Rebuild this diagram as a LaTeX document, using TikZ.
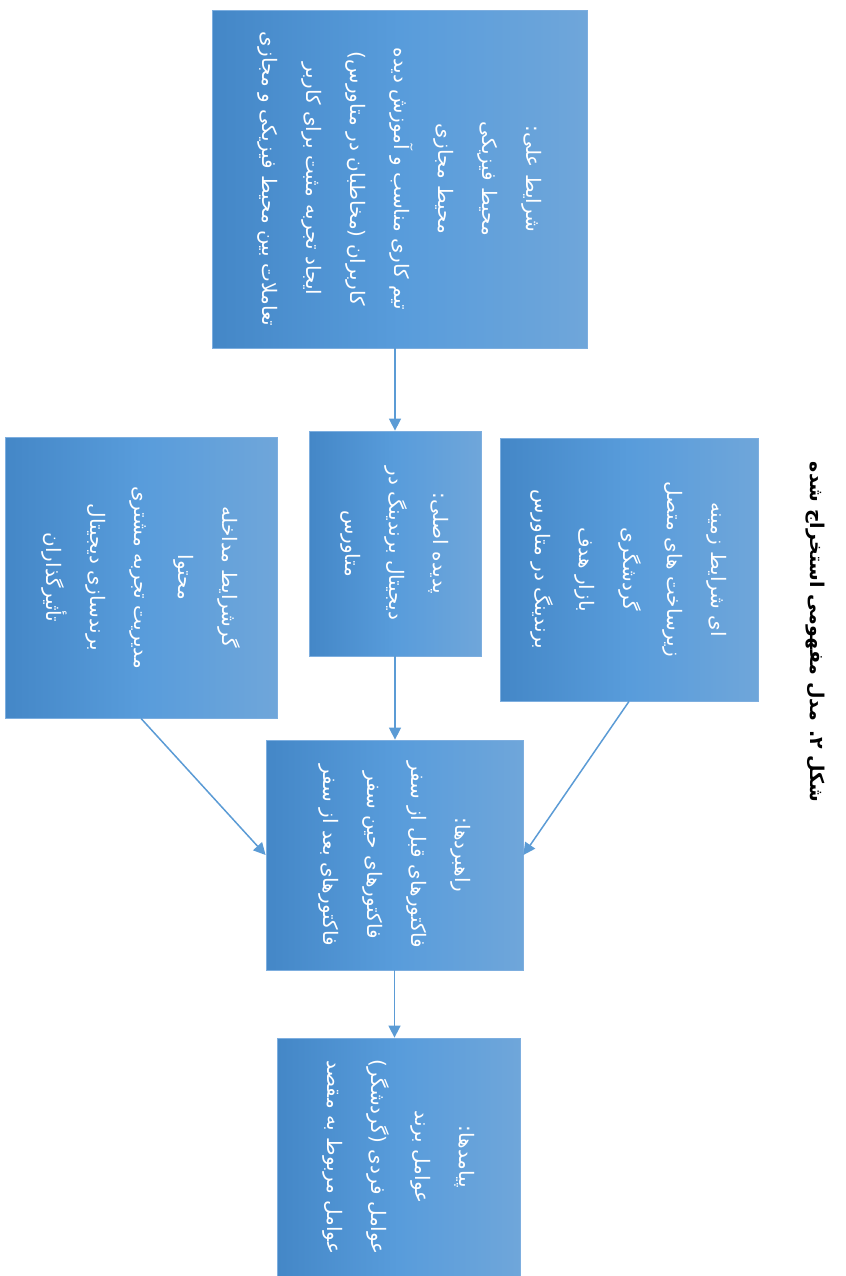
\documentclass[tikz,border=0pt]{standalone}
\usepackage{fontspec}
\usetikzlibrary{arrows.meta}
\newfontfamily\arabicfont[Script=Arabic]{DejaVu Sans}
\TeXXeTstate=1
\definecolor{boxdark}{HTML}{4487C7}
\definecolor{boxmid}{HTML}{589CDB}
\definecolor{boxlight}{HTML}{6FA6DA}
\definecolor{boxedge}{HTML}{7DAEDF}
\definecolor{flow}{HTML}{5B9BD5}
\newcommand{\rl}[1]{\beginR #1\endR}

\begin{document}
\begin{tikzpicture}
        [x=0.5pt,y=-0.5pt,every node/.style={rotate=-90,align=center,text=white,inner sep=0,font=\arabicfont\fontsize{10}{22}\selectfont},
        stage/.style={draw=boxedge,left color=boxdark,right color=boxlight,middle color=boxmid},
        link/.style={draw=flow,line width=0.75pt,-{Triangle[length=6pt,width=6pt]}}]

        \useasboundingbox (0,0) rectangle (846,1276);

        \node[stage,minimum width=169pt,minimum height=187.5pt] (cause) at (399.5,179)
          {\rl{شرایط علی:}\\ \rl{محیط فیزیکی}\\ \rl{محیط مجازی}\\ \rl{تیم کاری مناسب و آموزش دیده}\\
           \rl{کاربران (مخاطبان در متاورس)}\\ \rl{ایجاد تجربه مثبت برای کاربر}\\ \rl{تعاملات بین محیط فیزیکی و مجازی}};
        \node[stage,minimum width=131.5pt,minimum height=129pt] (context) at (629,569.5)
          {\rl{ای شرایط زمینه}\\ \rl{زیرساخت های متصل}\\ \rl{گردشگری}\\ \rl{بازار هدف}\\ \rl{برندینگ در متاورس}};
        \node[stage,minimum width=112.5pt,minimum height=86pt] (core) at (395,543.5)
          {\rl{پدیده اصلی:}\\ \rl{دیجیتال برندینگ در}\\ \rl{متاورس}};
        \node[stage,minimum width=140.5pt,minimum height=136pt] (interv) at (141,577.5)
          {\rl{گرشرایط مداخله}\\ \rl{محتوا}\\ \rl{مدیریت تجربه مشتری}\\ \rl{برندسازی دیجیتال}\\ \rl{تأثیرگذاران}};
        \node[stage,minimum width=115pt,minimum height=128.5pt] (strat) at (394.5,855)
          {\rl{راهبردها:}\\ \rl{فاکتورهای قبل از سفر}\\ \rl{فاکتورهای حین سفر}\\ \rl{فاکتورهای بعد از سفر}};
        \node[stage,minimum width=119pt,minimum height=121.5pt] (result) at (398.5,1157)
          {\rl{پیامدها:}\\ \rl{عوامل برند}\\ \rl{عوامل فردی (گردشگر)}\\ \rl{عوامل مربوط به مقصد}};

        \node[font=\arabicfont\bfseries\fontsize{9.5}{12}\selectfont,text=black] (title) at (815,632)
          {\rl{شکل ۲. مدل مفهومی استخراج شده}};

        \draw[link] (cause.east -| core.west) -- (core.west);
        \draw[link] (core.east) -- (core.east |- strat.west);
        \draw[link] (context.east) -- (strat.north);
        \draw[link] (interv.east) -- (strat.south);
        \draw[link] (strat.east) -- (strat.east |- result.west);

      \end{tikzpicture}
\end{document}
